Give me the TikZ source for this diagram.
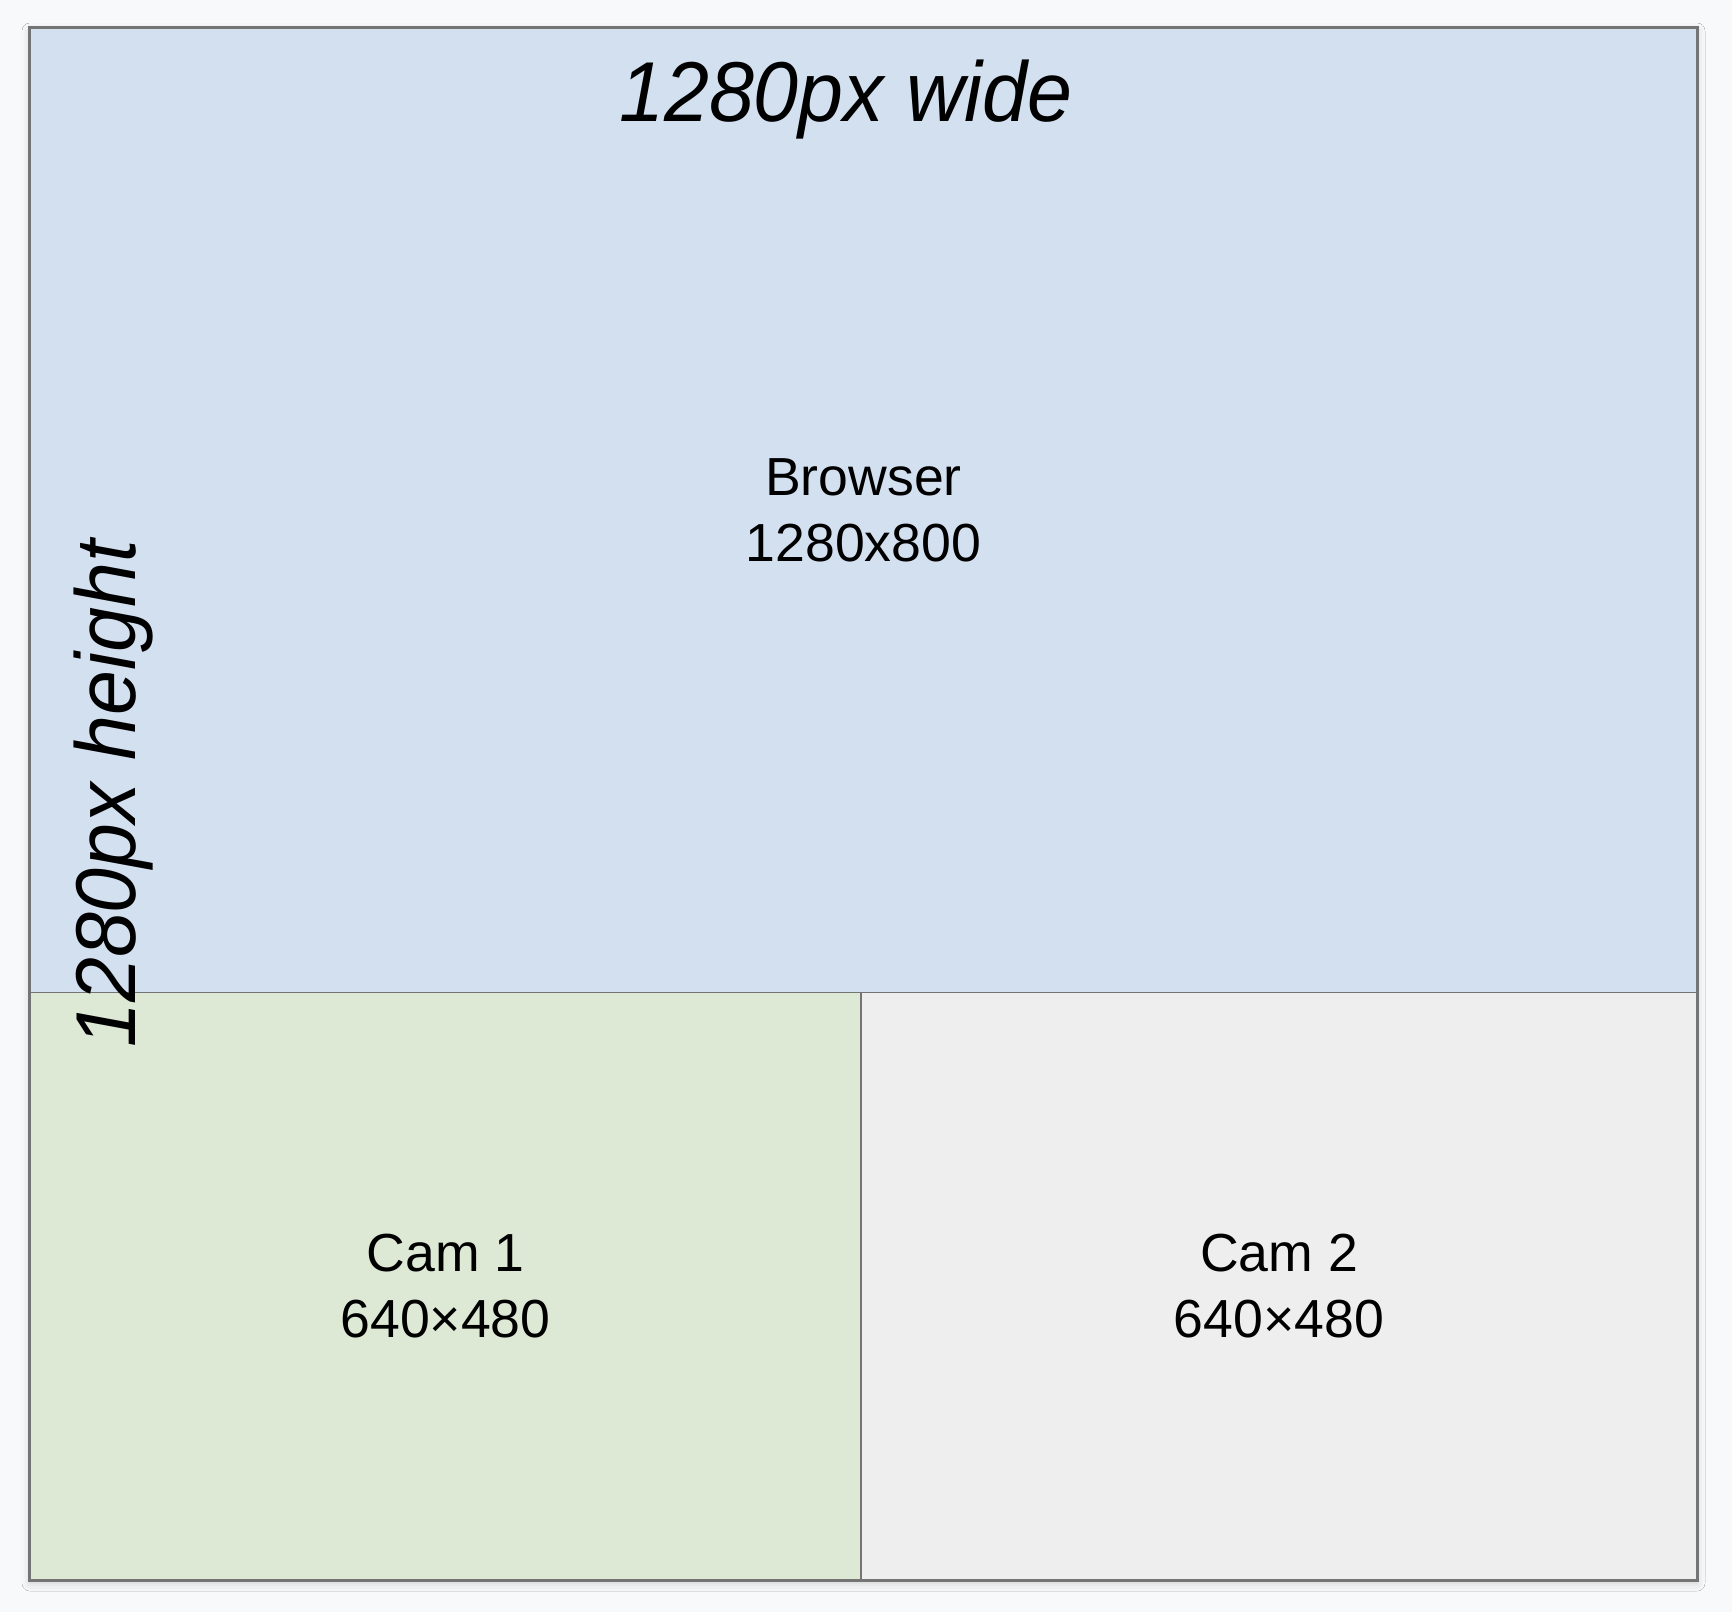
\documentclass[tikz,border=0pt]{standalone}
\usepackage{fontspec}
\setmainfont{Liberation Sans}
\newfontfamily\dimfont{Liberation Sans}[FakeStretch=0.95]
\usetikzlibrary{shadows.blur}
\definecolor{bgc}{HTML}{F8F9FA}
\definecolor{browserc}{HTML}{D3E0F0}
\definecolor{camonec}{HTML}{DDE8D5}
\definecolor{camtwoc}{HTML}{EEEEEE}
\definecolor{linec}{HTML}{747474}
\begin{document}
\begin{tikzpicture}[x=0.5pt,y=-0.5pt,
  region/.style={draw=linec, line width=0.7pt, inner sep=0pt, align=center,
    font=\fontsize{26.8pt}{33pt}\selectfont},
  dimlabel/.style={inner sep=0pt, font=\dimfont\itshape\fontsize{42.5pt}{50pt}\selectfont}]
\useasboundingbox[fill=bgc] (0,0) rectangle (1732,1612);
% soft shadow of the whole frame
\path[fill=bgc, blur shadow={shadow xshift=0pt, shadow yshift=-1.5pt, shadow blur radius=4pt, shadow opacity=18}]
  (30,28) rectangle (1697,1580);
% regions
\node[region, fill=browserc, minimum width=833.5pt, minimum height=482.35pt]
  (browser) at (863.5,510.35) {Browser\\1280x800};
\node[region, fill=camonec, minimum width=415.5pt, minimum height=293.65pt]
  (camone) at (445.5,1286.35) {Cam 1\\640×480};
\node[region, fill=camtwoc, minimum width=418pt, minimum height=293.65pt]
  (camtwo) at (1279,1286.35) {Cam 2\\640×480};
% outer frame
\draw[linec, line width=1pt] (browser.north west) rectangle (camtwo.south east);
% dimension labels
\node[dimlabel, anchor=base] (wide) at (846,121) {1280px wide};
\node[dimlabel, anchor=base, rotate=90] (height) at (135,794) {1280px height};
\end{tikzpicture}
\end{document}
